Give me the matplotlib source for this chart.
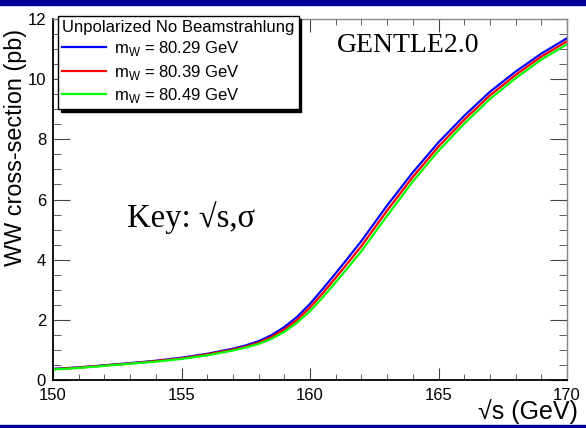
import numpy as np
import matplotlib
matplotlib.use("Agg")
import matplotlib.pyplot as plt
from matplotlib.patches import Rectangle
from matplotlib.ticker import MultipleLocator

# sqrt(s) in GeV and WW cross-section (pb) for three W masses
sqrt_s = [150, 151, 152, 153, 154, 155, 156, 157, 157.5, 158, 158.5, 159, 159.5,
          160, 160.5, 161, 161.5, 162, 163, 164, 165, 166, 167, 168, 169, 170]
sigma_8029 = [0.37, 0.42, 0.49, 0.56, 0.64, 0.74, 0.87, 1.04, 1.15, 1.29, 1.49, 1.76, 2.10,
              2.53, 3.03, 3.55, 4.08, 4.62, 5.80, 6.90, 7.90, 8.78, 9.58, 10.25, 10.85, 11.36]
sigma_8039 = [0.36, 0.41, 0.48, 0.55, 0.63, 0.72, 0.85, 1.01, 1.11, 1.24, 1.43, 1.68, 2.00,
              2.41, 2.89, 3.40, 3.92, 4.45, 5.63, 6.75, 7.76, 8.65, 9.46, 10.14, 10.75, 11.26]
sigma_8049 = [0.35, 0.40, 0.47, 0.54, 0.61, 0.70, 0.82, 0.98, 1.08, 1.20, 1.37, 1.60, 1.91,
              2.29, 2.75, 3.25, 3.76, 4.28, 5.46, 6.60, 7.62, 8.52, 9.34, 10.03, 10.65, 11.16]
labels = ["m$_{\\mathregular{W}}$ = 80.29 GeV",
          "m$_{\\mathregular{W}}$ = 80.39 GeV",
          "m$_{\\mathregular{W}}$ = 80.49 GeV"]
colors = ["#0000ff", "#ff0000", "#00ff00"]

plt.rcParams['font.family'] = ['Liberation Sans', 'DejaVu Sans']
plt.rcParams['mathtext.fontset'] = 'custom'
plt.rcParams['mathtext.rm'] = 'Liberation Sans'

W, H = 586, 428
fig = plt.figure(figsize=(W / 100, H / 100), dpi=100)
ax = fig.add_axes([53 / W, 1 - 380 / H, (567 - 53) / W, (380 - 19) / H])

for ys, lab, c in zip([sigma_8029, sigma_8039, sigma_8049], labels, colors):
    ax.plot(sqrt_s, ys, color=c, lw=1.6, label=lab)

ax.set_xlim(150, 170)
ax.set_ylim(0, 12)
ax.xaxis.set_major_locator(MultipleLocator(5))
ax.xaxis.set_minor_locator(MultipleLocator(1))
ax.yaxis.set_major_locator(MultipleLocator(2))
ax.yaxis.set_minor_locator(MultipleLocator(0.5))
ax.tick_params(which='both', direction='in', top=True, right=True, colors='#444444',
               labelcolor='black', labelsize=12)
ax.tick_params(axis='x', which='major', length=9, pad=6)
ax.tick_params(axis='x', which='minor', length=4.5)
ax.tick_params(axis='y', which='major', length=12, pad=5)
ax.tick_params(axis='y', which='minor', length=6)
for s in ['left', 'bottom']:
    ax.spines[s].set_color('black')
    ax.spines[s].set_linewidth(1.3)
for s in ['top', 'right']:
    ax.spines[s].set_color('#888888')
    ax.spines[s].set_linewidth(1.0)

fig.text(16 / W, 1 - 147 / H, "WW cross-section (pb)", fontsize=16.8, rotation=90,
         ha='center', va='center')
fig.text(578 / W, 1 - 412 / H, "\u221as (GeV)", fontsize=18, ha='right', va='center')

leg = ax.legend(title="Unpolarized No Beamstrahlung", loc='upper left',
                bbox_to_anchor=(58 / W, 1 - 16 / H), bbox_transform=fig.transFigure,
                borderaxespad=0, fontsize=12, title_fontsize=12, alignment='left',
                fancybox=False, shadow={'color': 'black', 'alpha': 1},
                edgecolor='black', framealpha=1, handlelength=2.6, labelspacing=0.25,
                borderpad=0.25, handletextpad=0.5)
leg.get_frame().set_linewidth(1.0)

ax.text(408 / W, 1 - 46 / H, "GENTLE2.0", transform=fig.transFigure, fontsize=20,
        family=['Liberation Serif', 'DejaVu Serif'], ha='center', va='center')
ax.text(191 / W, 1 - 218 / H, "Key: \u221as,\u03c3", transform=fig.transFigure, fontsize=23.5,
        family=['Liberation Serif', 'DejaVu Serif'], ha='center', va='center')

# slide bars
fig.patches.append(Rectangle((0, 1 - 5 / H), 1, 5 / H, transform=fig.transFigure,
                             color='#000099', zorder=0))
fig.patches.append(Rectangle((0, 0), 1, 3 / H, transform=fig.transFigure,
                             color='#000099', zorder=0))

fig.savefig("out.png", dpi=100)
